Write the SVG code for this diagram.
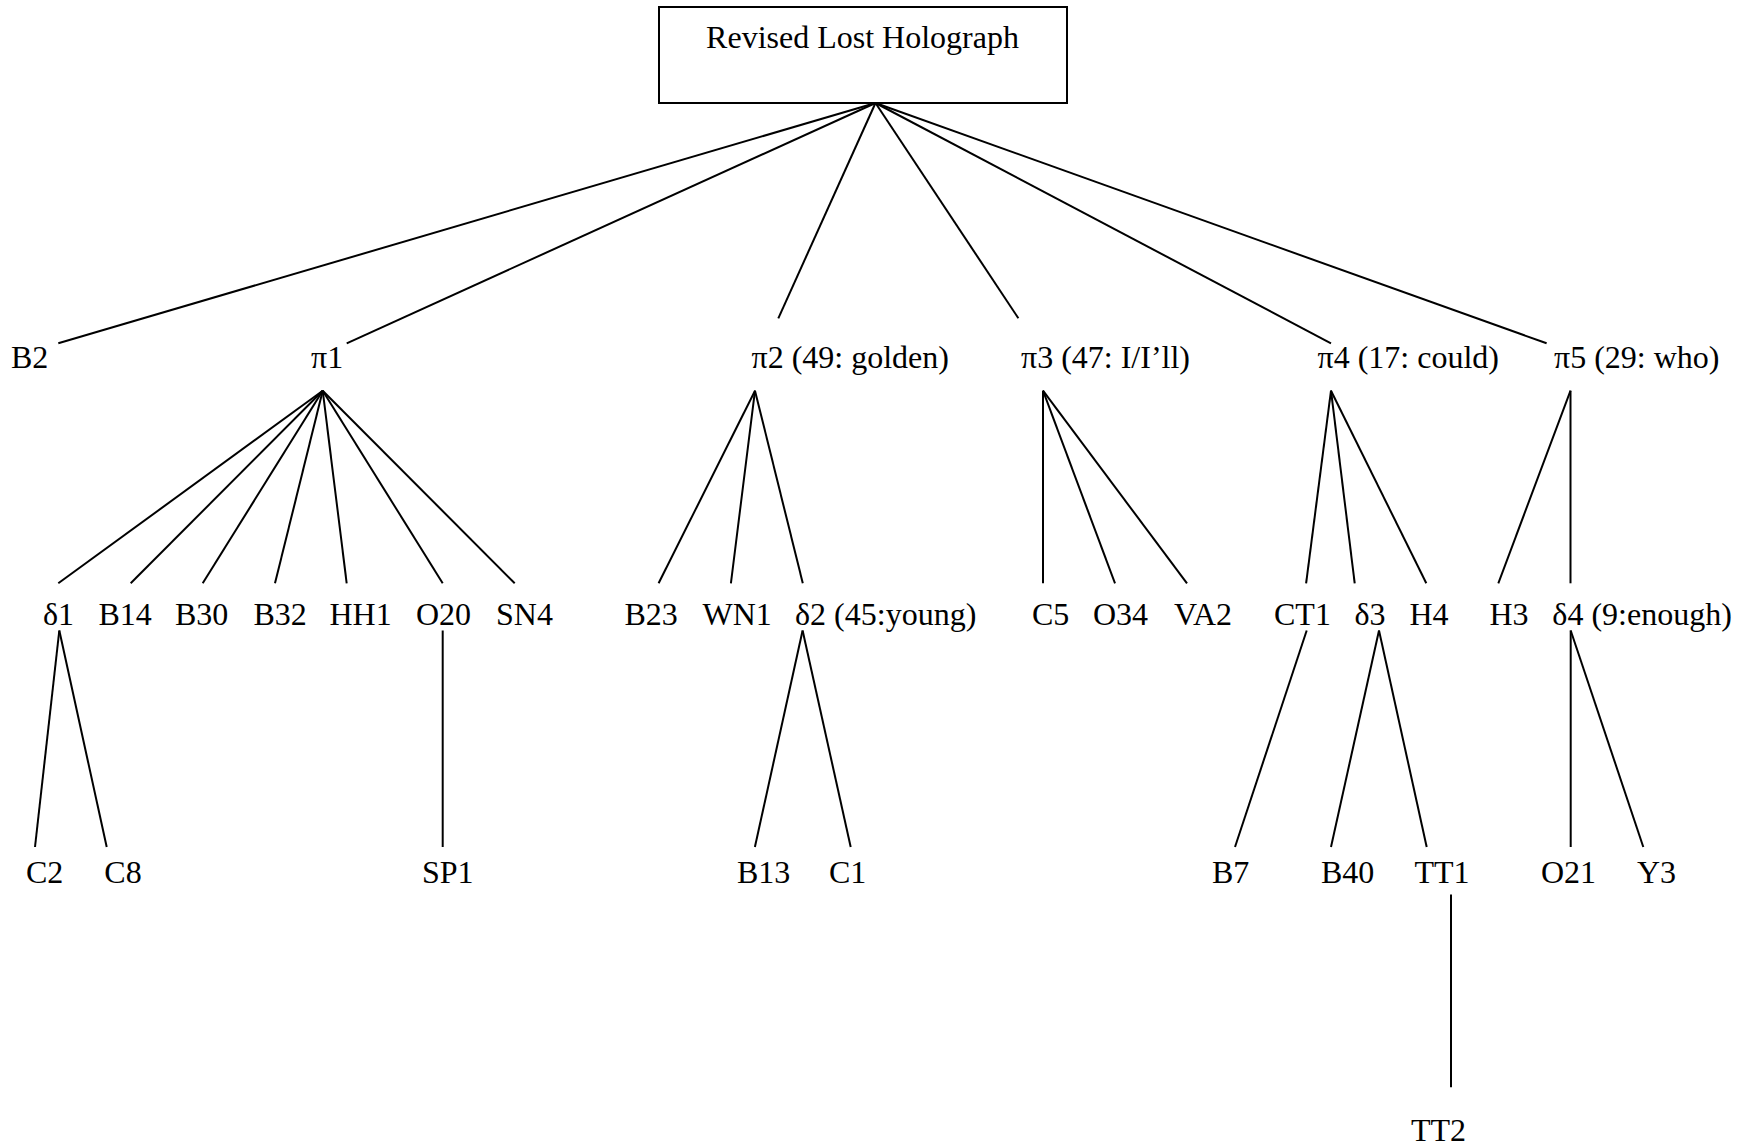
<svg xmlns="http://www.w3.org/2000/svg" width="1751" height="1146" viewBox="0 0 1751 1146">
<style>
text{font-family:"Liberation Serif","Times New Roman",serif;font-size:32px;fill:#000}
.e line{stroke:#000;stroke-width:2;stroke-linecap:butt}
.box{fill:#fff;stroke:#000;stroke-width:2}
</style>
<rect width="1751" height="1146" fill="#fff"/>
<g class="e" id="connectors">
<line x1="875.5" y1="103" x2="58.3" y2="343.3"/>
<line x1="875.5" y1="103" x2="346.7" y2="343.3"/>
<line x1="875.5" y1="103" x2="778.3" y2="318.3"/>
<line x1="875.5" y1="103" x2="1018.4" y2="318.3"/>
<line x1="875.5" y1="103" x2="1331" y2="343.3"/>
<line x1="875.5" y1="103" x2="1546.6" y2="343.3"/>
<line x1="322.7" y1="390.7" x2="58.3" y2="583.3"/>
<line x1="322.7" y1="390.7" x2="130.7" y2="583.3"/>
<line x1="322.7" y1="390.7" x2="202.7" y2="583.3"/>
<line x1="322.7" y1="390.7" x2="275" y2="583.3"/>
<line x1="322.7" y1="390.7" x2="346.7" y2="583.3"/>
<line x1="322.7" y1="390.7" x2="442.7" y2="583.3"/>
<line x1="322.7" y1="390.7" x2="514.7" y2="583.3"/>
<line x1="755" y1="390.7" x2="658.6" y2="583.3"/>
<line x1="755" y1="390.7" x2="730.9" y2="583.3"/>
<line x1="755" y1="390.7" x2="802.8" y2="583.3"/>
<line x1="1043" y1="390.7" x2="1043" y2="583.3"/>
<line x1="1043" y1="390.7" x2="1115" y2="583.3"/>
<line x1="1043" y1="390.7" x2="1187" y2="583.3"/>
<line x1="1331" y1="390.7" x2="1306.1" y2="583.3"/>
<line x1="1331" y1="390.7" x2="1354.7" y2="583.3"/>
<line x1="1331" y1="390.7" x2="1426.3" y2="583.3"/>
<line x1="1570.5" y1="390.7" x2="1498.3" y2="583.3"/>
<line x1="1570.5" y1="390.7" x2="1570.5" y2="583.3"/>
<line x1="59.3" y1="630.5" x2="35" y2="847"/>
<line x1="59.3" y1="630.5" x2="106.7" y2="847"/>
<line x1="442.7" y1="630.5" x2="442.7" y2="847"/>
<line x1="802.6" y1="630.5" x2="754.9" y2="847"/>
<line x1="802.6" y1="630.5" x2="850.7" y2="847"/>
<line x1="1306.7" y1="630.5" x2="1235" y2="847"/>
<line x1="1379" y1="630.5" x2="1331" y2="847"/>
<line x1="1379" y1="630.5" x2="1426.7" y2="847"/>
<line x1="1570.7" y1="630.5" x2="1570.7" y2="847"/>
<line x1="1570.7" y1="630.5" x2="1643.3" y2="847"/>
<line x1="1451" y1="894.5" x2="1451" y2="1087.3"/>
</g>
<g id="root"><rect class="box" x="659" y="7" width="408" height="96"/><text x="862.5" y="48.3" text-anchor="middle">Revised Lost Holograph</text></g>
<g id="B2"><text x="11" y="368.3">B2</text></g>
<g id="pi1"><text x="311" y="368.3">π1</text></g>
<g id="pi2"><text x="751.5" y="368.3">π2 (49: golden)</text></g>
<g id="pi3"><text x="1021" y="368.3">π3 (47: I/I’ll)</text></g>
<g id="pi4"><text x="1317.5" y="368.3">π4 (17: could)</text></g>
<g id="pi5"><text x="1554" y="368.3">π5 (29: who)</text></g>
<g id="d1"><text x="43" y="625">δ1</text></g>
<g id="B14"><text x="98.5" y="625">B14</text></g>
<g id="B30"><text x="175" y="625">B30</text></g>
<g id="B32"><text x="253.5" y="625">B32</text></g>
<g id="HH1"><text x="329.5" y="625">HH1</text></g>
<g id="O20"><text x="416" y="625">O20</text></g>
<g id="SN4"><text x="496" y="625">SN4</text></g>
<g id="B23"><text x="624.5" y="625">B23</text></g>
<g id="WN1"><text x="702.5" y="625">WN1</text></g>
<g id="d2"><text x="795" y="625">δ2 (45:young)</text></g>
<g id="C5"><text x="1032" y="625">C5</text></g>
<g id="O34"><text x="1093" y="625">O34</text></g>
<g id="VA2"><text x="1174" y="625">VA2</text></g>
<g id="CT1"><text x="1274" y="625">CT1</text></g>
<g id="d3"><text x="1354.5" y="625">δ3</text></g>
<g id="H4"><text x="1409.5" y="625">H4</text></g>
<g id="H3"><text x="1489.5" y="625">H3</text></g>
<g id="d4"><text x="1552.3" y="625">δ4 (9:enough)</text></g>
<g id="C2"><text x="26" y="883.3">C2</text></g>
<g id="C8"><text x="104.3" y="883.3">C8</text></g>
<g id="SP1"><text x="422" y="883.3">SP1</text></g>
<g id="B13"><text x="737" y="883.3">B13</text></g>
<g id="C1"><text x="829" y="883.3">C1</text></g>
<g id="B7"><text x="1212" y="883.3">B7</text></g>
<g id="B40"><text x="1321" y="883.3">B40</text></g>
<g id="TT1"><text x="1414.5" y="883.3">TT1</text></g>
<g id="O21"><text x="1541" y="883.3">O21</text></g>
<g id="Y3"><text x="1637" y="883.3">Y3</text></g>
<g id="TT2"><text x="1411" y="1140.5">TT2</text></g>
</svg>
